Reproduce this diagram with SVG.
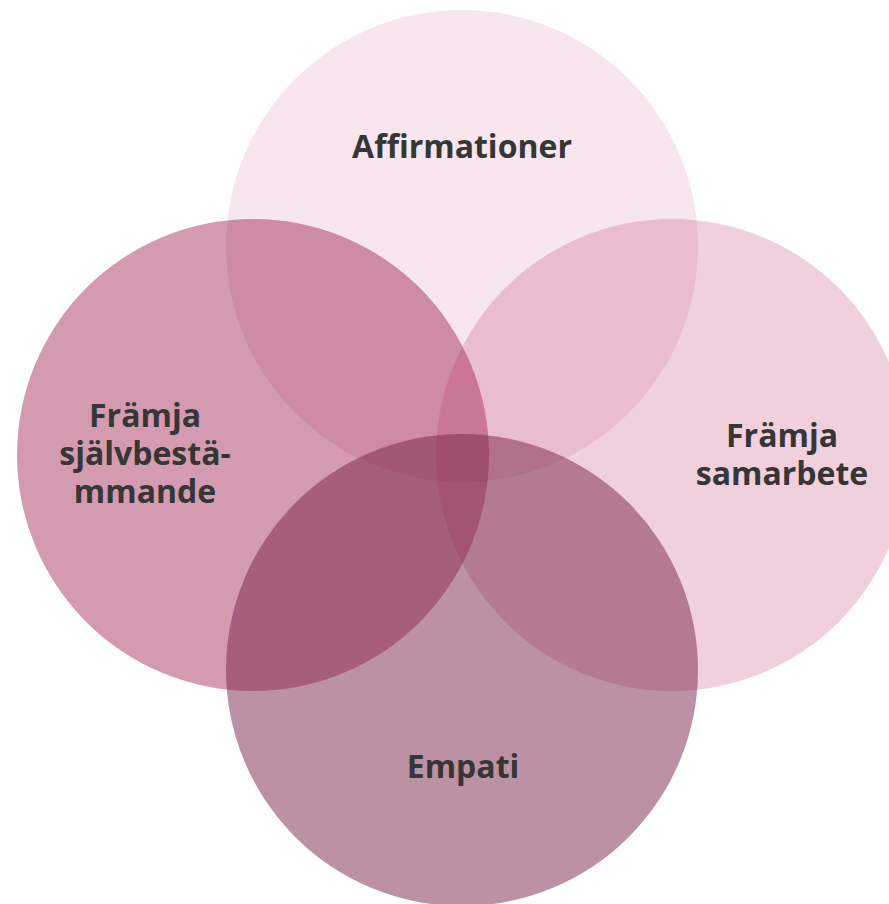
<svg xmlns="http://www.w3.org/2000/svg" width="889" height="904" viewBox="0 0 889 904">
<style>
.lbl{font-family:"Open Sans","Liberation Sans",sans-serif;font-weight:bold;font-size:32px;fill:#363636;text-anchor:middle}
</style>
<rect width="889" height="904" fill="#ffffff"/>
<g id="circles">
<g id="top"><circle cx="462" cy="246" r="236" fill="#be326e" fill-opacity="0.12"/></g>
<g id="left"><circle cx="253" cy="455" r="236" fill="#910339" fill-opacity="0.4"/></g>
<g id="right"><circle cx="672" cy="455" r="236" fill="#be326e" fill-opacity="0.23"/></g>
<g id="bottom"><circle cx="462" cy="670" r="236" fill="#772347" fill-opacity="0.5"/></g>
</g>
<g id="labels">
<text class="lbl" x="462" y="158">Affirmationer</text>
<text class="lbl" x="145" y="427">Främja</text>
<text class="lbl" x="145" y="465">självbestä-</text>
<text class="lbl" x="145" y="503">mmande</text>
<text class="lbl" x="782" y="447">Främja</text>
<text class="lbl" x="782" y="485">samarbete</text>
<text class="lbl" x="463" y="778">Empati</text>
</g>
</svg>
